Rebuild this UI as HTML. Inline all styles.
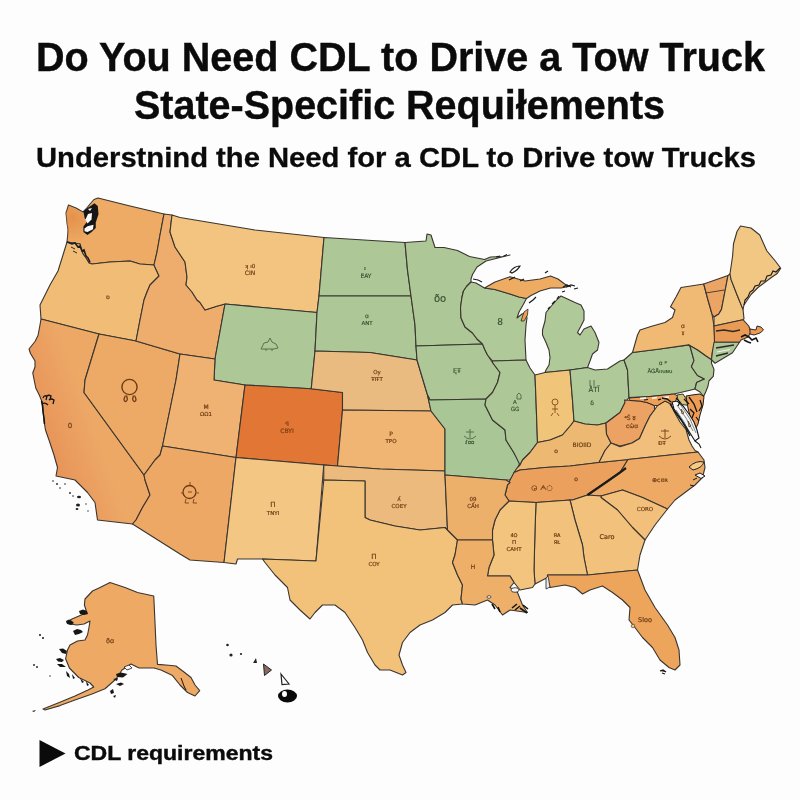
<!DOCTYPE html>
<html><head><meta charset="utf-8"><style>
html,body{margin:0;padding:0;background:#fdfdfd;}
svg{display:block;}
</style></head><body>
<svg width="800" height="800" viewBox="0 0 800 800">
<rect width="800" height="800" fill="#fdfdfd"/>
<g font-family="'Liberation Sans', Arial, sans-serif" font-weight="bold" fill="#0b0b0b" stroke="#0b0b0b" stroke-width="0.4">
<text x="36" y="71" font-size="41" textLength="729" lengthAdjust="spacingAndGlyphs">Do You Need CDL to Drive a Tow Truck</text>
<text x="134" y="119" font-size="40" textLength="531" lengthAdjust="spacingAndGlyphs">State-Specific Requiłements</text>
<text x="36" y="167" font-size="27" textLength="720" lengthAdjust="spacingAndGlyphs" stroke-width="0.3">Understnind the Need for a CDL to Drive tow Trucks</text>
<text x="74" y="760" font-size="20" textLength="199" lengthAdjust="spacingAndGlyphs">CDL requirements</text>
</g>
<path d="M39.5,740 L65.5,753.5 L39.5,767 Z" fill="#0b0b0b"/>
<defs><linearGradient id="cag" x1="45" y1="430" x2="90" y2="414" gradientUnits="userSpaceOnUse"><stop offset="0" stop-color="#E8955A"/><stop offset="1" stop-color="#EDA866"/></linearGradient></defs>
<g stroke="#3a3530" stroke-width="1.1" stroke-linejoin="round">
<polygon points="68.5,205 76,208 83,212 86,209 90,204 94,199.5 98,198 130,206 164,214 160,235 157,252 154,265 140,264 130,261 110,262 92,264 89,263 86,258 83,254 81,248 80,244 74,243 67,242 67.5,237 68,230 67,223 66,213" fill="#EDAB65"/>
<polygon points="67,242 74,243 80,244 81,248 83,254 86,258 89,263 92,264 110,262 130,261 140,264 154,265 159,276 150,285 147,292 144,300 140,320 136,341 99,334 41,319 40,305 45,295 50,285 58,271 63,255" fill="#F1BD76"/>
<polygon points="41,319 99,334 85,380 84,392.5 144,475 145,480 150,495 142.5,507.5 136,520 132.5,524 97.5,520 95,502.5 87.5,492.5 75,480 56,476 57.5,467.5 54,455 49,440 45.5,430 44,421 43.25,412 42.5,403 39.5,395.5 35.75,388 34.25,380.5 32.75,373 35,367 35,361 30.5,353.5 29,349 35,341.5 38,335.5 40,325" fill="url(#cag)"/>
<polygon points="99,334 136,341 180,354 176,380 162.5,446 160,455 155,460 144,475 84,392.5 85,380" fill="#EDAA67"/>
<polygon points="164,214 172,215 170,232 175,247 185,262 187,277 186,285 192,292 197,300 200,302.5 205,310 217.5,306 225,304 215,359 180,354 136,341 140,320 144,300 147,292 150,285 159,276 154,265 157,252 160,235" fill="#EEAD6C"/>
<polygon points="172,215 180,217.5 255,230 324,237.5 319,296 317,312.5 225,304 217.5,306 205,310 200,302.5 197,300 192,292 186,285 187,277 185,262 175,247 170,232" fill="#F3C47F"/>
<polygon points="225,304 317,312.5 315,351 311.25,388.75 245,385 214,380 215,359" fill="#ADC796"/>
<polygon points="180,354 215,359 214,380 245,385 236,457.5 162.5,446 176,380" fill="#EFB272"/>
<polygon points="245,385 311.25,388.75 342.5,392.5 342.5,410 337.5,466 236,457.5" fill="#E27634"/>
<polygon points="144,475 155,460 160,455 162.5,446 236,457.5 224,562.5 190,560 180,554 132.5,524 136,520 142.5,507.5 150,495 145,480" fill="#EDA865"/>
<polygon points="236,457.5 323.75,465 316,561 262.5,559 237.5,559 236,564 224,562.5" fill="#F3C683"/>
<polygon points="324,237.5 380,241 405,242.5 407.5,270 411,296 319,296" fill="#ADC796"/>
<polygon points="319,296 370,296 411,296 415,325 416,346 417,360 370,352.5 315,351 317,312.5" fill="#ADC796"/>
<polygon points="311.25,388.75 315,351 370,352.5 417,360 420,370 427.5,395 431,411 342.5,410 342.5,392.5" fill="#E9BB80"/>
<polygon points="342.5,410 431,411 445,429 445,471 380,469 337.5,466" fill="#F0B573"/>
<polygon points="323.75,465 337.5,466 380,469 445,471 445,475 447.5,530 445,527.5 420,530 395,526 370,520 365,517.5 365,481 323.75,480" fill="#EDBA7D"/>
<polygon points="323.75,480 365,481 365,517.5 370,520 395,526 420,530 445,527.5 447.5,530 457.5,540 455,555 452.5,562.5 457.5,575 462.5,585 461,599 462.5,604 452.5,605 445,612.5 432.5,620 420,625 410,632.5 402.5,642.5 399,655 402.5,665 406,672.5 402.5,675 390,670 380,670 375,665 367.5,652.5 362.5,640 355,627.5 345,612.5 335,605 322.5,605 315,612.5 310,619 300,610 290,600 287.5,587.5 275,575 265,562.5 262.5,559 316,561" fill="#F2C27B"/>
<polygon points="405,242.5 426,241 427,234 431,235 435,247.5 444,247.5 457.5,250.5 469.5,256.5 484.5,259.5 490.5,257 504,256.5 510,255 486,261 477,267 472.5,274.5 471,279 471,282 466.5,286.5 463.5,291 462,297 460.5,307.5 461,318 465,327 472.5,333 477,339 482.5,344 416,346 415,325 411,296 407.5,270" fill="#ADC796"/>
<polygon points="416,346 482.5,344 485,350 487.5,355 492.5,362.5 500,372.5 497.5,382.5 492.5,392.5 486,399 430,400 427.5,395 420,370 417,360" fill="#ADC796"/>
<polygon points="430,400 486,399 485,405 492.5,420 505,430 506,440 513.75,452.5 520,462.5 515,475 510,480 506,480 445,475 445,471 445,429 431,411 427.5,395" fill="#A9C796"/>
<polygon points="471,282 476,283 484.5,288 495,289.5 510,294 519,297 526.5,298.5 523,305 519,312 517,318 522,314 526,312.5 527,318 526,325 525,340 526,360 492.5,361 487.5,355 485,350 482.5,344 477,339 472.5,333 465,327 461,318 460.5,307.5 462,297 463.5,291 466.5,286.5" fill="#AFC998"/>
<polygon points="484.5,288 495,282 510,276.75 525,281 540,279 550.5,276 558,279 564,283.5 568.5,286.5 561,288 550.5,288 540,291 531,295.5 526.5,298.5 519,297 510,294 495,289.5" fill="#EEAB62"/>
<polygon points="561,296 567.5,299 575,302.5 581,305 584,311 584,320 581,326 577.5,332.5 580,335 584,329 591,326 595,332.5 599,342.5 597.5,350 592.5,354 590,361 587.5,367.5 570,370 545,372.5 546,370 549,365 550,357.5 549,350 546,342.5 542.5,335 542.5,330 545,321 546,312.5 550,307.5 557.5,299" fill="#AFC998"/>
<polygon points="492.5,361 526,360 530,368 535,375 536,400 537.5,442.5 530,452.5 522.5,460 520,465 513.75,452.5 506,440 505,430 492.5,420 485,405 486,399 492.5,392.5 497.5,382.5 500,372.5 492.5,362.5" fill="#ADC796"/>
<polygon points="535,375 545,372.5 570,370 572.5,400 574,421 571,425 562.5,435 550,440 537.5,442.5 536,400" fill="#F0C479"/>
<polygon points="570,370 587.5,367.5 595,370 607.5,369 620,361 624,360 627.5,370 629,397.5 625,402.5 620,412.5 610,420 606,423 597.5,425 585,424 574,421 572.5,400" fill="#AFC998"/>
<polygon points="520,465 522.5,460 530,452.5 537.5,442.5 550,440 562.5,435 571,425 574,421 585,424 597.5,425 606,423 606.5,434 611,443 605,450.5 599,462.5 570,466 545,467.5 520,470 514,472.5 517,468" fill="#EDB972"/>
<polygon points="514,472.5 520,470 545,467.5 570,466 599,462.5 628,459.5 620,472.5 587.5,495 572.5,500 570,500 536,502.5 509,501 505,495 507.5,485" fill="#EBA15D"/>
<polygon points="624.5,400 639.5,401 647,402.5 654.5,405.5 654.5,410 650,416 645.5,425 639.5,438.5 632,443 620,446 611,443 606.5,434 606,423 610,420 620,412.5 625,402.5" fill="#ECA262"/>
<polygon points="599,462.5 605,450.5 611,443 620,446.75 632,443 639.5,438.5 645.5,425 650,416 654.5,410 657.5,405.5 665,401 671,404 674,411.5 680,422 686,429.5 689,440 692,446 695,450.5 698,452 628,459.5 599,462.5" fill="#F1BF7B"/>
<polygon points="628,459.5 698,452 704,460 705,467.5 702.5,477.5 695,485 685,492.5 675,500 667.5,509 642.5,497.5 622.5,490 601,496 587.5,495 620,472.5" fill="#EEAA65"/>
<polygon points="601,496 622.5,490 642.5,497.5 667.5,509 655,525 645,540 632.5,527.5 617.5,510 601,497.5" fill="#F2C07B"/>
<polygon points="570,500 572.5,500 587.5,495 601,496 601,497.5 617.5,510 632.5,527.5 645,540 640,555 637.5,570 587.5,575 584,557.5 582.5,545 575,520" fill="#F2C27C"/>
<polygon points="536,502.5 570,500 575,520 582.5,545 584,557.5 587.5,575 547.5,575 547.5,580 550,587.5 547.5,577.5 535,584 534,570 535,530" fill="#F2C27C"/>
<polygon points="509,501 536,502.5 535,530 534,570 535,584 532.5,587.5 520,590 514,582.5 510,576 487.5,576 489,567.5 494,555 492.5,540 492.5,530 495,520 500,510" fill="#F3C47E"/>
<polygon points="445,475 506,480 510,482.5 507.5,485 505,495 509,501 500,510 495,520 492.5,530 492.5,540 457.5,540 447.5,530" fill="#ECB06B"/>
<polygon points="457.5,540 492.5,540 494,555 489,567.5 487.5,576 510,576 514,582.5 510,587.5 517.5,592.5 522.5,605 527.5,612.5 510,610 502.5,615 495,605 487.5,600 475,605 462.5,604 461,599 462.5,585 457.5,575 452.5,562.5 455,555" fill="#EEAF68"/>
<polygon points="547.5,575 587.5,575 637.5,570 645,590 655,607.5 667.5,625 675,637.5 679,650 680,665 675,670 669,667.5 660,660 652.5,647.5 642.5,637.5 635,627.5 629,620 630,607.5 622.5,600 612.5,592.5 602.5,586 590,590 582.5,594 575,587.5 565,585 550,587.5 547.5,580" fill="#EDA55C"/>
<polygon points="624,360 632.5,352.5 660,349 688.75,344.9 690,346 694,360.6 691.4,366.75 697.5,375.5 704.5,379 696.6,382.5 695,389 689,390.5 674,394 650,396.5 629,397.5 627.5,370" fill="#ADC796"/>
<polygon points="632.5,352.5 637.5,335 640,330 652.5,326 665,322.5 672.5,317.5 675,310 670.5,306.75 676,297 681,287.5 703.75,284 708,300 712,314 714,326 714.5,335 715,343.5 712.4,351.9 711.5,359.75 706.25,356.25 697.5,350 688.75,344.9 660,349" fill="#F1BA74"/>
<polygon points="688.75,344.9 697.5,350 706.25,356.25 711.5,359.75 711.5,363.25 714,369.4 713.25,376.4 709,380.75 708,386 706,391.25 703.6,396.5 700,392 695,389 696.6,382.5 704.5,379 697.5,375.5 691.4,366.75 694,360.6 690,346" fill="#ADC796"/>
<polygon points="703.75,284 728,275.6 721.5,309.4 718.75,314 714,317 712,314 708,300" fill="#EBA463"/>
<polygon points="728,275.6 730,273.75 731,279.4 737.5,296 743,309.4 744,318.75 743,319.7 714,326 714,317 718.75,314 721.5,309.4" fill="#F0C47F"/>
<polygon points="730,273.75 732.6,256 733.5,243.75 737,231.5 740.5,226 751,228 759.75,235 766.75,250.75 775.5,261.25 780.75,268.25 777.25,273.5 772,277 765,282.25 758,287.5 751,294.5 744,305 743,309.4 737.5,296 731,279.4" fill="#F2C683"/>
<polygon points="714,326 743,319.7 748.75,326 751,332 748,337 741,340 739.5,342.25 714.5,342.25" fill="#E99A55"/>
<polygon points="714,342.25 739.5,342.25 732.5,352.75 715,363.25 711.5,359.75 712.4,351.9" fill="#ADC796"/>
<polygon points="86,610 84.4,605 85,599 92.5,591 100,587.5 110,582.5 125,587.5 137.5,592.5 153.75,596 155,622.5 156,645 157.5,664.4 168.75,665.3 176,666 184,672 191,677.5 195,685 199.7,690.6 195,696 187.5,692.5 180,685 172.5,675.6 161,670 154,668 139,668 131,664 122,670 116,679 105,688.75 92,694 75,700 60,705.6 45,710 43,709 58,703 75,696 88,690 93.75,687 90,683 78.75,677.5 69.4,668 65.6,658.75 67.5,650 70,645 77.5,641 85,640 87.5,635 89,627.5 90,621 84,624 77,625 70,624 67,622 72,619 79,616 86,613" fill="#EEA964"/>
</g>

<!-- Puget sound -->
<defs><radialGradient id="wag" cx="72" cy="218" r="26" gradientUnits="userSpaceOnUse"><stop offset="0" stop-color="#E2863F" stop-opacity="0.7"/><stop offset="1" stop-color="#E2863F" stop-opacity="0"/></radialGradient></defs>
<path d="M68.5,206 L76,209 L83,212 L86,222 L84,232 L88,236 L90,262 L80,244 L74,243 L67,242 L67.5,230 L66,213 Z" fill="url(#wag)"/>
<path d="M83.4,211.5 L87.5,208 L91.6,205.3 L94.4,203.25 L97.8,206 L98.5,214.25 L95.75,222.5 L95.75,228 L91.6,232 L87.5,235 L83.4,232 L83.4,226.6 L87.5,221 L84.75,218.4 Z" fill="#161616"/>
<path d="M85.5,219.5 L88,214 L92,213 L91.5,219.5 L87.5,223.5 Z" fill="#fbfbfb"/>
<path d="M84.5,228.5 L87.5,226.2 L93.5,224.8 L93,229.2 L87.5,232 L84.5,231.3 Z" fill="#fbfbfb"/>
<path d="M88,209 L92,208 L90,211 Z" fill="#fbfbfb"/>
<path d="M67,242 L72,244 L75,243 L78,247 L80,246 L82,251 L84,250 L86,256 L88,258 L90,262.4" stroke="#1e1e1e" stroke-width="1.6" fill="none"/>
<path d="M71,247 L75,249 M73,251 L77,253" stroke="#2a2a2a" stroke-width="1" fill="none"/>
<!-- CA coast marks near SF -->
<path d="M43,398 Q44,395 47,396 L46,400 M46,397 Q48,394 51,396 L50,400 M49,400 Q51,398 54,400 L53,404 M42,404 Q45,402 48,405" stroke="#141414" stroke-width="1.3" fill="none"/>
<path d="M41.5,401 L42.5,406 L43,412 L44,418 L44.5,424" stroke="#141414" stroke-width="1.5" fill="none"/>
<!-- Channel islands -->
<g fill="#1e1e1e">
<circle cx="53" cy="481" r="0.8"/><circle cx="57" cy="484" r="0.9"/><circle cx="60" cy="488" r="0.8"/><circle cx="65" cy="484" r="0.8"/>
<circle cx="70" cy="493" r="0.9"/><circle cx="73" cy="496" r="0.8"/><ellipse cx="79" cy="497" rx="2" ry="1.3"/>
<ellipse cx="78" cy="505" rx="2" ry="1.5"/><ellipse cx="77" cy="509" rx="1.4" ry="1"/><circle cx="86" cy="504" r="0.7"/><circle cx="88" cy="511" r="0.7"/>
</g>
<path d="M557,299 L559,296 M552,304 L555,301 M548,309 L550,307 M563,287 L567,285 L571,287 M574,289 L578,288 M562,292 L565,291" stroke="#1a1a1a" stroke-width="1.2" fill="none"/>
<!-- Isle Royale -->
<path d="M510,272 Q514,266 520,266 Q518,270 512,273 Z" fill="none" stroke="#1a1a1a" stroke-width="1.2"/>
<path d="M496,257 L500,256 M503,256.5 L507,254.5 M473,279 L478,280 L482,282" stroke="#1a1a1a" stroke-width="1.1" fill="none"/>
<!-- Door peninsula -->
<path d="M521,321 L524,312 L528,309 L527.5,315 L524,321 Z" fill="#EDA055" stroke="#2a2a2a" stroke-width="0.8"/>
<path d="M509,280 L515,277 M520,281 L524,279 M545,273 L548,271 M566,287 L571,285 L575,286 M529,303 L533,300 L536,297" stroke="#1a1a1a" stroke-width="1.2" fill="none"/>
<!-- Chesapeake / MD / DE -->
<path d="M629,398 L650,396.5 L674,394 L678,396 L674,404 L671,404 L665,401 L657.5,405.5 L654.5,405.5 L647,402.5 L639.5,401 L630,400.5 Z" fill="#EE9F58" stroke="#222" stroke-width="0.9"/>
<path d="M640,398.5 L646,398 M652,398.3 L657,397.5 M663,397.5 L669,397" stroke="#fafafa" stroke-width="1.4"/>
<path d="M644,400 L648,399.5 M658,399.8 L661,399.2" stroke="#111" stroke-width="1.2"/>
<path d="M677,395 L683,394 L686.75,400 L688.5,405.4 L682.4,404.5 L678,400 Z" fill="#D8C27A" stroke="#222" stroke-width="0.9"/>
<path d="M686,396 L692,395 L700,394 L704,396.6 L703,405 L700,415 L698,424 L695,430 L691,420 L688,408 Z" fill="#EE9C55" stroke="#1a1a1a" stroke-width="1"/>
<path d="M672,402 L677,401 L683,406 L689,414 L694,422 L697,430 L699,438 L695,441 L690,433 L685,425 L679,416 L674,409 Z" fill="#f7f7f7" stroke="#141414" stroke-width="1.1"/>
<path d="M677,405 L686,418 L693,431 M680,404 L690,419 L696,433 M676,410 L684,422 L690,434" stroke="#2a3a3a" stroke-width="0.6" fill="none"/>
<path d="M681,409 L684,413 L682,414 Z M688,421 L691,426 L689,427 Z" fill="#EE9C55" stroke="#222" stroke-width="0.6"/>
<path d="M670,404 L675,412 L681,420 L686,428 L690,436 M689,397 L694,404 L697,412" stroke="#141414" stroke-width="1.3" fill="none"/>
<path d="M695,441 L699,444 L701,448" stroke="#141414" stroke-width="1.1" fill="none"/>
<path d="M676,398 L680,402 L678,406 M684,399 L689,404 M690,409 L694,413 L692,418 M696,417 L699,421 M700,400 L702,406 L699,411" stroke="#111" stroke-width="1.2" fill="none"/>
<path d="M662,398 L667,399 L671,402" stroke="#111" stroke-width="1.4" fill="none"/>
<!-- TN/NC river line -->
<path d="M626,468 L620,472.5 L605,483 L587.5,495" stroke="#1c1c1c" stroke-width="2.2" fill="none"/>
<!-- NC sounds -->
<path d="M689,467 Q696,460 704,462 Q702,468 693,470 Z" fill="#F3CB85" stroke="#222" stroke-width="1"/>
<path d="M695,475 L700,473 L705,476 L701,478.5 Z" fill="#f7f7f7" stroke="#1a1a1a" stroke-width="1"/>
<path d="M693,480 L697,478 M690,485 L694,486" stroke="#1a1a1a" stroke-width="1"/>
<path d="M705.6,293 L724.4,290" stroke="#3a3530" stroke-width="0.9"/>
<path d="M716,331 L724,330 L733,331.5 L740,330" stroke="#2a2a2a" stroke-width="1.3" fill="none"/>
<path d="M780,268 L776,272 L773,271 L771,275 L767,276 L765,281 L761,281 L759,285 L755,286 L753,290 L750,292 L748,297 L745,300 L744,305" stroke="#1a1a1a" stroke-width="1.1" fill="none"/>
<!-- CT/LI stripes -->
<path d="M716,348 L734,345 M716,356 L728,353" stroke="#2a2a2a" stroke-width="1.6"/>
<path d="M717,352 L730,349.5" stroke="#f4f4f4" stroke-width="1"/>
<!-- MA / Cape Cod -->
<path d="M750,329 L756,330 L757,326 L761,327 L763.5,330 L760,333 L754,335 L750,334 Z" fill="#EB9A52" stroke="#1a1a1a" stroke-width="0.9"/>
<path d="M741,337 L745,335 L749,337 L752,340 L756,338 L758,342 M744,340 L748,342 L751,343" stroke="#141414" stroke-width="1.6" fill="none"/>
<!-- Lake Pontchartrain & delta -->
<ellipse cx="515" cy="590" rx="4" ry="2.3" fill="#f6f6f6" stroke="#222" stroke-width="0.8"/>
<path d="M492,604 L495,609 M498,607 L500,612 M512,608 L517,604 M515,610 L520,606 M520,608 L527,613 M523,605 L528,609" stroke="#141414" stroke-width="1.6"/>
<ellipse cx="489" cy="597" rx="2" ry="1.3" fill="#f6f6f6" stroke="#222" stroke-width="0.7"/>
<!-- Mobile bay -->
<path d="M548,576 L550,587 L546,589 L546,578 Z" fill="#e8e8e8" stroke="#222" stroke-width="0.8"/>
<!-- FL keys -->
<path d="M660,671 L663,670 L666,672 M662,673 L665,674" stroke="#1a1a1a" stroke-width="1.3"/>
<circle cx="633" cy="626" r="1.8" fill="#F3C77E" stroke="#333" stroke-width="0.6"/>
<!-- Alaska islands & marks -->
<g fill="#161616">
<path d="M79,611 L83,609.5 L87,611 L88,614 L84,615 L80,614 Z"/>
<path d="M66,621 L69,619.5 L72,621 L74,623 L71,625 L67,624 Z"/>
<path d="M73,631 L77,629 L81,630 L83,632 L79,634 L75,635 Z"/>
<path d="M59,649 L63,648.5 L67,651 L66,654 L62,653 Z"/>
<path d="M56,659 L60,658 L64,660 L62,662 L58,661.5 Z"/>
<path d="M57,664 L62,664 L66,667 L60,667 Z"/>
<path d="M66,671 L69,674 L70,678 L67,676 Z"/>
<path d="M72,674 L75,678 L73,679 Z"/><path d="M80,678 L84,682 L82,683 Z"/><path d="M86,681 L89,685 L87,686 Z"/>
<circle cx="40" cy="635" r="1"/><circle cx="43" cy="638" r="1"/>
<circle cx="34" cy="665" r="0.9"/><circle cx="37" cy="667" r="0.9"/><circle cx="50" cy="676" r="0.7"/>
<path d="M116,674 L121,672.5 L127.5,674 L123,677.5 L117,677 Z"/>
<path d="M113,679 L118,678 L117,681 Z"/>
<path d="M116,684 L121,682.5 L124,684 L120,686 Z"/>
<path d="M110,691 L113,689 L114,693 L111,694 Z"/>
<path d="M113,696 L116,695 L115,698 Z"/>
<path d="M181,678 L184,686 L186,690" stroke="#161616" stroke-width="1" fill="none"/>
<path d="M32,711 L36,710 L34,712 Z"/>
</g>
<path d="M124,667 L129,665 L132,668 L127,670 Z" fill="#fff" stroke="#1a1a1a" stroke-width="0.8"/>
<!-- Hawaii -->
<circle cx="227.5" cy="645" r="1.3" fill="#222"/>
<circle cx="231" cy="655" r="1.6" fill="#222"/>
<circle cx="241" cy="654" r="1.1" fill="#222"/>
<path d="M253,663 L256,658 L257,663 Z" fill="#222"/>
<path d="M263.5,664 L271.5,670 L264.5,675.5 Z" fill="#8a6a60" stroke="#222" stroke-width="1"/>
<path d="M281,674 L289,684 L282,684.5 Z" fill="#fff" stroke="#222" stroke-width="1.2"/>
<ellipse cx="287.5" cy="696" rx="9.5" ry="6.5" fill="#0a0a0a"/>
<ellipse cx="284.5" cy="694" rx="2.5" ry="3" fill="#fff"/>


<g font-family="'DejaVu Sans', sans-serif" fill="#6e3c14" text-anchor="middle" stroke="#6e3c14" stroke-width="0.2">
<text x="250" y="268" font-size="5.5">ʞ ı0</text><text x="250" y="275" font-size="6">CΙΝ</text>
<text x="108" y="299" font-size="6">ɒ</text>
<text x="70" y="428" font-size="7">0</text>
<text x="206" y="409" font-size="6">M</text><text x="206" y="416" font-size="5.5">ΩΩ1</text>
<text x="287" y="426" font-size="6" fill="#8e3d14">ꟼ</text><text x="287" y="433" font-size="6" fill="#8e3d14">CBYI</text>
<text x="273" y="507" font-size="7">Π</text><text x="273" y="515" font-size="5.5">TNYI</text>
<text x="391" y="436" font-size="6">P</text><text x="391" y="443" font-size="5.5">TPO</text>
<text x="399" y="501" font-size="6">ʎ</text><text x="399" y="508" font-size="5.5">COEY</text>
<text x="374" y="559" font-size="7">Π</text><text x="374" y="566" font-size="5.5">COY</text>
<text x="377" y="374" font-size="5.5">Oy</text><text x="377" y="381" font-size="5.5">ŦIŦT</text>
<text x="473" y="501" font-size="5.5">09</text><text x="473" y="508" font-size="5.5">CẤH</text>
<text x="473" y="569" font-size="6">H</text>
<text x="514" y="537" font-size="5">4O</text><text x="514" y="544" font-size="5.5">Π</text><text x="514" y="551" font-size="5.5">CAHT</text>
<text x="557" y="537" font-size="5">ЯA</text><text x="557" y="544" font-size="5">ЯŁ</text>
<text x="607" y="539" font-size="6.5">Caro</text>
<text x="645" y="511" font-size="5.5">CORO</text>
<text x="645" y="622" font-size="6.5">Sloo</text>
<text x="582" y="447" font-size="6">BIOIID</text>
<text x="556" y="453" font-size="6">o</text>
<text x="576" y="481" font-size="6">o</text>
<text x="542" y="490" font-size="7">◶ ᗅ◌</text>
<text x="630" y="420" font-size="6">ᵃŚ ʬ</text><text x="632" y="428" font-size="6">ᴄὡɑ</text>
<text x="660" y="482" font-size="6">⊕cıɪʀ</text>
<text x="662" y="445" font-size="5.5">ĐŦ</text>
<text x="683" y="328" font-size="6">ɑ</text><text x="683" y="334" font-size="5">ɣ</text>
<text x="110" y="643" font-size="6.5">ðɑ</text>
</g>
<g font-family="'DejaVu Sans', sans-serif" fill="#34522f" text-anchor="middle" stroke="#34522f" stroke-width="0.15">
<text x="365" y="270" font-size="5">ɪ</text><text x="366" y="278" font-size="6">EAY</text>
<text x="367" y="318" font-size="6">ɑ</text><text x="367" y="325" font-size="5.5">ANT</text>
<text x="440" y="302" font-size="10">ðo</text>
<text x="500" y="325" font-size="9">8</text>
<text x="457" y="373" font-size="6.5">ĘŦ</text>
<text x="515" y="404" font-size="5.5">A</text><text x="515" y="411" font-size="5.5">ĠĠ</text>
<text x="470" y="444" font-size="5.5">ℓɑɑ</text>
<text x="594" y="392" font-size="7">ÅTЇ</text><text x="592" y="405" font-size="6">δ</text>
<text x="663" y="365" font-size="6">ɑ ᵖ</text><text x="660" y="373" font-size="5.5">ĀĠĀ̃ııuɴu</text>
</g>
<!-- doodles -->
<g fill="none" stroke="#8a4a1a" stroke-width="1">
<circle cx="129.5" cy="387" r="7.6" stroke-width="1.4" stroke="#6e3a12"/>
<path d="M125.5,395.5 Q122.5,401 125.5,401.5 Q128.5,401 126.5,395.5 M133.5,395.5 Q131.5,401 134.5,401.5 Q137.5,401 134.5,395.5" stroke-width="1.3" stroke="#6e3a12"/>
<circle cx="189.5" cy="492" r="6.5" stroke-width="1.3" stroke="#6e3a12"/>
<path d="M190,485 L190,482 M183,493 L181,493 M197,493 L199,493 M186,499 L185,503 L189,503 M194,499 L193,503 L197,503 M188,492 L192,492"/>
<path d="M665,429 L665,438 M661,431 L669,431 M659,436 Q665,442 671,436" stroke="#7d4a1e"/>
</g>
<g fill="none" stroke="#4e6a45" stroke-width="0.9">
<path d="M261,349 L264,343 L268,342 L270,338 L272,342 L276,344 L278,348 L274,349 Z M266,349 L266,351 M272,349 L272,351"/>
<path d="M470,429 L470,438 M466,432 L474,432 M464,436 Q470,442 476,436"/>
<path d="M517,395 L519,393 L521,395 L521,399 L517,399 Z"/>
<circle cx="555" cy="402" r="3" stroke="#8a4a1a"/>
<path d="M555,405 L555,413 M552,409 L558,409 M553,413 L551,416 M557,413 L559,416" stroke="#8a4a1a"/>
<path d="M590,380 L590,386 M594,380 L594,386"/>
</g>

</svg>
</body></html>
